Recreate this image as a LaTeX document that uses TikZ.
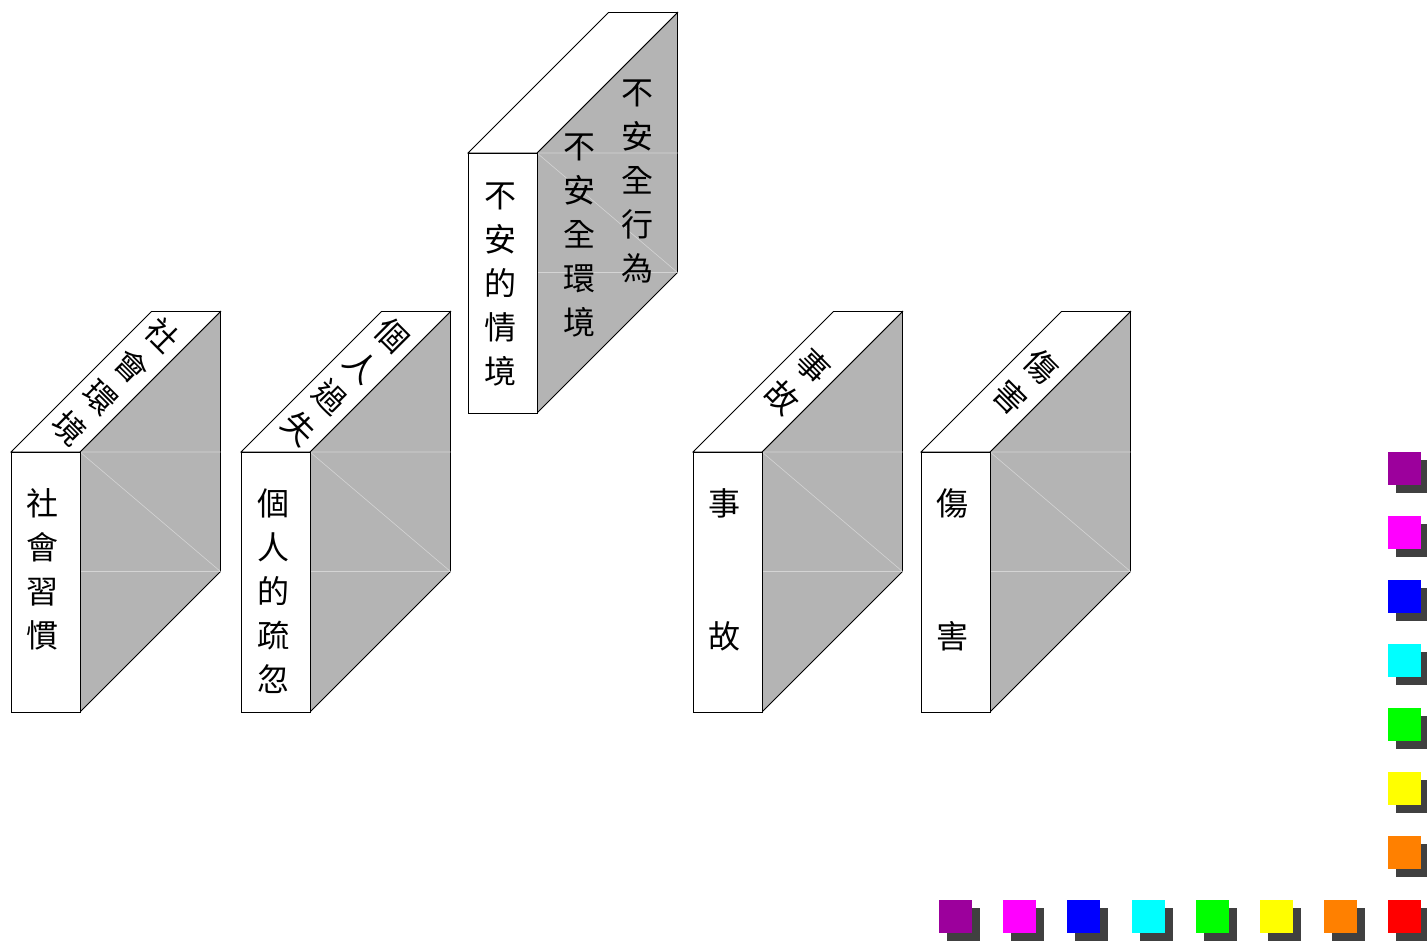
\documentclass[tikz,border=0pt]{standalone}
\usepackage{fontspec}
\newfontfamily\cjk{Noto Sans CJK TC}
\usetikzlibrary{positioning}
\definecolor{sidegray}{RGB}{180,180,180}
\definecolor{seamgray}{RGB}{212,212,212}
\definecolor{shadowgray}{RGB}{64,64,64}
\definecolor{chippurple}{RGB}{156,0,156}
\definecolor{chipmagenta}{RGB}{255,0,255}
\definecolor{chipblue}{RGB}{0,0,255}
\definecolor{chipcyan}{RGB}{0,255,255}
\definecolor{chipgreen}{RGB}{0,255,0}
\definecolor{chipyellow}{RGB}{255,255,0}
\definecolor{chiporange}{RGB}{255,128,0}
\definecolor{chipred}{RGB}{255,0,0}

\begin{document}
\begin{tikzpicture}[
    x=1pt, y=-1pt,
    face/.style={draw=black, line width=0.8pt, fill=white},
    side/.style={draw=black, line width=0.8pt, fill=sidegray},
    seam/.style={draw=seamgray, line width=0.6pt},
    spine/.style={font=\cjk\fontsize{32}{44}\selectfont, align=center, inner sep=0pt},
    chip/.style={minimum size=33pt, inner sep=0pt, anchor=north west},
  ]
    \useasboundingbox (0,0) rectangle (1427,940);
    % books (front edge, top, side cover)
    \foreach \bx/\by in {11/452, 241/452, 468/153, 693/452, 921/452} {
      \draw[side] ({\bx+69},\by) -- ++(140.5,-140.5) -- ++(0,260) -- ++(-140.5,140.5) -- cycle;
      \draw[seam] ({\bx+69},\by) -- ++(140.5,0) ({\bx+69},{\by+119.5}) -- ++(140.5,0)
                  ({\bx+69},\by) -- ++(140.5,119.5);
      \draw[face] (\bx,\by) -- ++(140.5,-140.5) -- ++(69,0) -- ++(-140.5,140.5) -- cycle;
      \draw[face] (\bx,\by) rectangle ++(69,260);
    }
    % spine and top labels
    \node[spine] (social-front) at (43,569) {社\\會\\習\\慣};
    \node[spine, rotate=-45] (social-top) at (115.75,381.75) {社\\會\\環\\境};
    \node[spine] (person-front) at (273,591) {個\\人\\的\\疏\\忽};
    \node[spine, rotate=-45] (person-top) at (345.75,381.75) {個\\人\\過\\失};
    \node[spine] (unsafe-front) at (500,284.5) {不\\安\\的\\情\\境};
    \node[spine] (unsafe-act) at (637,181.5) {不\\安\\全\\行\\為};
    \node[spine] (unsafe-env) at (579,236) {不\\安\\全\\環\\境};
    \node[spine] (accident-a) at (724,503) {事};
    \node[spine] (accident-b) at (724,636) {故};
    \node[spine, rotate=-45] (accident-top) at (797.75,381.75) {事\\故};
    \node[spine] (injury-a) at (952,503) {傷};
    \node[spine] (injury-b) at (952,636) {害};
    \node[spine, rotate=-45] (injury-top) at (1025.75,381.75) {傷\\害};
    % colour chips with shadows
    \foreach \i/\c in {0/chippurple, 1/chipmagenta, 2/chipblue, 3/chipcyan,
                       4/chipgreen, 5/chipyellow, 6/chiporange, 7/chipred} {
      \node[chip, fill=shadowgray] (col-\i-sh) at (1396,{460+64*\i}) {};
      \node[chip, fill=\c] (col-\i) at (1388,{452+64*\i}) {};
    }
    \foreach \i/\c in {0/chippurple, 1/chipmagenta, 2/chipblue, 3/chipcyan,
                       4/chipgreen, 5/chipyellow, 6/chiporange} {
      \node[chip, fill=shadowgray] (row-\i-sh) at ({947+64.14*\i},908) {};
      \node[chip, fill=\c] (row-\i) at ({939+64.14*\i},900) {};
    }
  \end{tikzpicture}
\end{document}
